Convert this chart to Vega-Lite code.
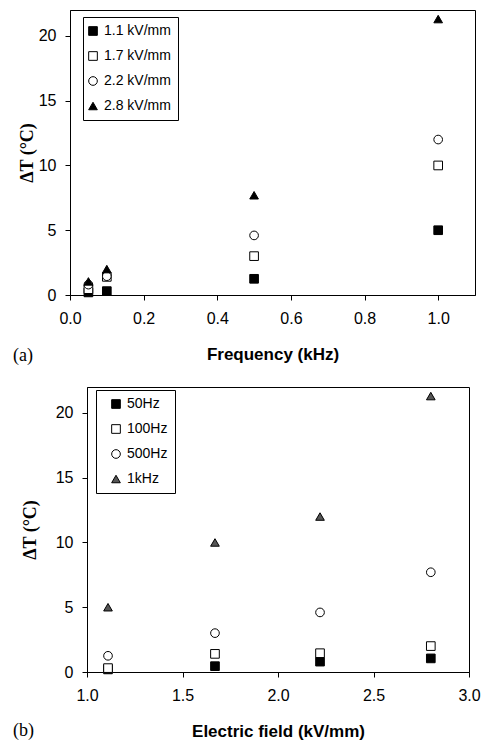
{
  "$schema": "https://vega.github.io/schema/vega-lite/v6.json",
  "background": "white",
  "padding": {"left": 12, "top": 9, "right": 0, "bottom": 0},
  "columns": 1,
  "bounds": "flush",
  "spacing": 92,
  "resolve": {"scale": {"shape": "independent", "fill": "independent", "stroke": "independent"}, "legend": {"shape": "independent", "fill": "independent", "stroke": "independent"}},
  "concat": [
    {
      "width": 405,
      "height": 285,
      "title": {"text": "(a)", "orient": "bottom", "anchor": "start", "frame": "group", "dx": -57, "dy": -19},
      "data": {"values": [
        {"f": 0.05, "dT": 0.2, "E": "1.1 kV/mm"},
        {"f": 0.1, "dT": 0.3, "E": "1.1 kV/mm"},
        {"f": 0.5, "dT": 1.25, "E": "1.1 kV/mm"},
        {"f": 1.0, "dT": 5.0, "E": "1.1 kV/mm"},
        {"f": 0.05, "dT": 0.45, "E": "1.7 kV/mm"},
        {"f": 0.1, "dT": 1.4, "E": "1.7 kV/mm"},
        {"f": 0.5, "dT": 3.0, "E": "1.7 kV/mm"},
        {"f": 1.0, "dT": 10.0, "E": "1.7 kV/mm"},
        {"f": 0.05, "dT": 0.8, "E": "2.2 kV/mm"},
        {"f": 0.1, "dT": 1.45, "E": "2.2 kV/mm"},
        {"f": 0.5, "dT": 4.6, "E": "2.2 kV/mm"},
        {"f": 1.0, "dT": 12.0, "E": "2.2 kV/mm"},
        {"f": 0.05, "dT": 1.05, "E": "2.8 kV/mm"},
        {"f": 0.1, "dT": 2.0, "E": "2.8 kV/mm"},
        {"f": 0.5, "dT": 7.7, "E": "2.8 kV/mm"},
        {"f": 1.0, "dT": 21.3, "E": "2.8 kV/mm"}
      ]},
      "mark": {"type": "point", "filled": true, "strokeWidth": 1, "opacity": 1, "size": 75},
      "encoding": {
        "x": {"field": "f", "type": "quantitative", "scale": {"domain": [0, 1.1], "nice": false, "zero": false},
              "axis": {"title": "Frequency (kHz)", "values": [0, 0.2, 0.4, 0.6, 0.8, 1.0], "format": ".1f"}},
        "y": {"field": "dT", "type": "quantitative", "scale": {"domain": [0, 22], "nice": false},
              "axis": {"title": "ΔT (°C)", "values": [0, 5, 10, 15, 20], "titlePadding": 2}},
        "shape": {"field": "E", "type": "nominal",
                  "scale": {"domain": ["1.1 kV/mm", "1.7 kV/mm", "2.2 kV/mm", "2.8 kV/mm"], "range": ["square", "square", "circle", "triangle-up"]},
                  "legend": {"title": null, "orient": "none", "legendX": 13, "legendY": 7, "symbolOffset": -4}},
        "fill": {"field": "E", "type": "nominal",
                 "scale": {"domain": ["1.1 kV/mm", "1.7 kV/mm", "2.2 kV/mm", "2.8 kV/mm"], "range": ["black", "white", "white", "black"]},
                 "legend": {"title": null, "orient": "none", "legendX": 13, "legendY": 7, "symbolOffset": -4}},
        "stroke": {"field": "E", "type": "nominal",
                   "scale": {"domain": ["1.1 kV/mm", "1.7 kV/mm", "2.2 kV/mm", "2.8 kV/mm"], "range": ["black", "black", "black", "black"]},
                   "legend": {"title": null, "orient": "none", "legendX": 13, "legendY": 7, "symbolOffset": -4}}
      }
    },
    {
      "hconcat": [
        {
          "width": 17,
          "height": 10,
          "view": {"stroke": null},
          "data": {"values": []},
          "mark": {"type": "point", "opacity": 0}
        },
        {
          "width": 382,
          "height": 285,
          "title": {"text": "(b)", "orient": "bottom", "anchor": "start", "frame": "group", "dx": -74, "dy": -21},
          "data": {"values": [
            {"E": 1.11, "dT": 0.2, "F": "50Hz"},
            {"E": 1.67, "dT": 0.45, "F": "50Hz"},
            {"E": 2.22, "dT": 0.8, "F": "50Hz"},
            {"E": 2.8, "dT": 1.05, "F": "50Hz"},
            {"E": 1.11, "dT": 0.3, "F": "100Hz"},
            {"E": 1.67, "dT": 1.4, "F": "100Hz"},
            {"E": 2.22, "dT": 1.45, "F": "100Hz"},
            {"E": 2.8, "dT": 2.0, "F": "100Hz"},
            {"E": 1.11, "dT": 1.25, "F": "500Hz"},
            {"E": 1.67, "dT": 3.0, "F": "500Hz"},
            {"E": 2.22, "dT": 4.6, "F": "500Hz"},
            {"E": 2.8, "dT": 7.7, "F": "500Hz"},
            {"E": 1.11, "dT": 5.0, "F": "1kHz"},
            {"E": 1.67, "dT": 10.0, "F": "1kHz"},
            {"E": 2.22, "dT": 12.0, "F": "1kHz"},
            {"E": 2.8, "dT": 21.3, "F": "1kHz"}
          ]},
          "mark": {"type": "point", "filled": true, "strokeWidth": 1, "opacity": 1, "size": 75},
          "encoding": {
            "x": {"field": "E", "type": "quantitative", "scale": {"domain": [1, 3], "nice": false, "zero": false},
                  "axis": {"title": "Electric field (kV/mm)", "values": [1, 1.5, 2, 2.5, 3], "format": ".1f"}},
            "y": {"field": "dT", "type": "quantitative", "scale": {"domain": [0, 22], "nice": false},
                  "axis": {"title": "ΔT (°C)", "values": [0, 5, 10, 15, 20], "titlePadding": 16}},
            "shape": {"field": "F", "type": "nominal",
                      "scale": {"domain": ["50Hz", "100Hz", "500Hz", "1kHz"], "range": ["square", "square", "circle", "triangle-up"]},
                      "legend": {"title": null, "orient": "none", "legendX": 9, "legendY": 3, "symbolOffset": 6}},
            "fill": {"field": "F", "type": "nominal",
                     "scale": {"domain": ["50Hz", "100Hz", "500Hz", "1kHz"], "range": ["black", "white", "white", "#555555"]},
                     "legend": {"title": null, "orient": "none", "legendX": 9, "legendY": 3, "symbolOffset": 6}},
            "stroke": {"field": "F", "type": "nominal",
                       "scale": {"domain": ["50Hz", "100Hz", "500Hz", "1kHz"], "range": ["black", "black", "black", "black"]},
                       "legend": {"title": null, "orient": "none", "legendX": 9, "legendY": 3, "symbolOffset": 6}}
          }
        }
      ],
      "spacing": 0,
      "bounds": "flush",
      "resolve": {"scale": {"shape": "independent", "fill": "independent", "stroke": "independent"}, "legend": {"shape": "independent", "fill": "independent", "stroke": "independent"}}
    }
  ],
  "config": {
    "font": "Liberation Sans",
    "view": {"stroke": "black", "strokeWidth": 1},
    "axis": {"grid": false, "domainColor": "black", "domainWidth": 1, "tickColor": "black", "tickSize": 5, "tickWidth": 1,
             "labelColor": "black", "labelFont": "Liberation Sans", "labelFontSize": 16, "labelPadding": 9, "labelFlush": false,
             "titleColor": "black"},
    "axisX": {"labelPadding": 10, "titleFont": "Liberation Sans", "titleFontSize": 17, "titleFontWeight": "bold", "titlePadding": 20},
    "axisY": {"titleFont": "Liberation Serif", "titleFontSize": 18, "titleFontWeight": "bold"},
    "legend": {"strokeColor": "black", "fillColor": "white", "padding": 7, "rowPadding": 11, "labelFont": "Liberation Sans",
               "labelFontSize": 14, "labelColor": "black", "labelOffset": 4, "symbolSize": 75, "symbolStrokeWidth": 1},
    "title": {"font": "Liberation Serif", "fontSize": 18, "fontWeight": "normal", "color": "black", "offset": 0}
  }
}
